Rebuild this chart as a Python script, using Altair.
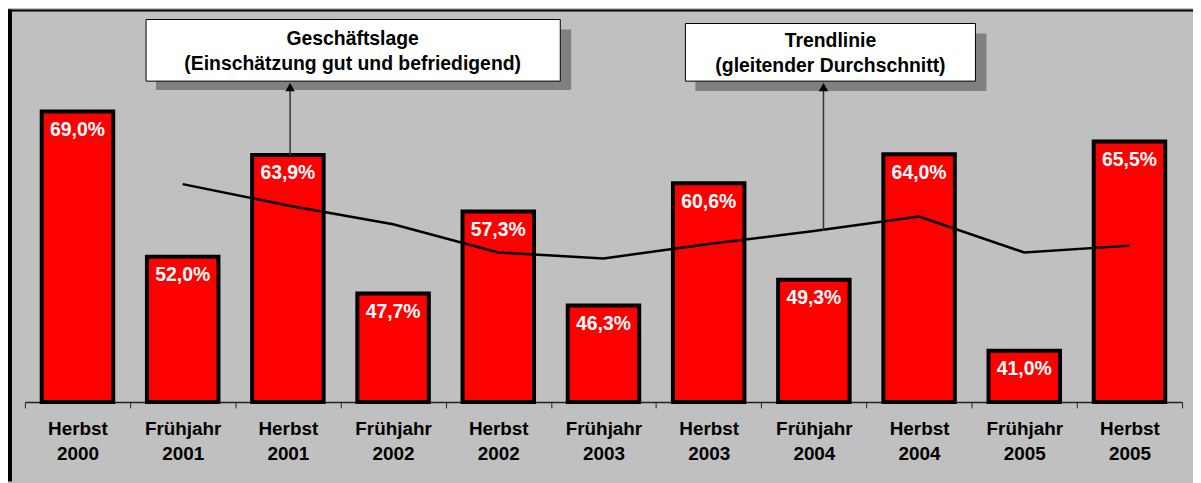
import altair as alt
import pandas as pd

categories = ["Herbst 2000", "Frühjahr 2001", "Herbst 2001", "Frühjahr 2002",
              "Herbst 2002", "Frühjahr 2003", "Herbst 2003", "Frühjahr 2004",
              "Herbst 2004", "Frühjahr 2005", "Herbst 2005"]
values = [69.0, 52.0, 63.9, 47.7, 57.3, 46.3, 60.6, 49.3, 64.0, 41.0, 65.5]
trend_categories = ["Frühjahr 2001", "Herbst 2001", "Frühjahr 2002", "Herbst 2002",
                    "Frühjahr 2003", "Herbst 2003", "Frühjahr 2004", "Herbst 2004",
                    "Frühjahr 2005", "Herbst 2005"]
trend_values = [60.5, 58.0, 55.8, 52.5, 51.8, 53.5, 55.0, 56.7, 52.5, 53.3]
box1_lines = ["Geschäftslage", "(Einschätzung gut und befriedigend)"]
box2_lines = ["Trendlinie", "(gleitender Durchschnitt)"]

W, H = 1165, 393
FONT = "Liberation Sans"

bars_df = pd.DataFrame({"cat": categories, "v": values})
trend_df = pd.DataFrame({"cat": trend_categories, "t": trend_values})
one = pd.DataFrame({"a": [0]})

xs = alt.Scale(domain=categories, paddingInner=0, paddingOuter=0)
x_axis = alt.Axis(title=None, labelExpr="split(datum.label, ' ')", tickBand="extent",
                  labelAngle=0)
x = alt.X("cat:N", sort=categories, scale=xs, axis=x_axis)
ys = alt.Scale(domain=[35, 80.7], nice=False, zero=False)
y_bar = alt.Y("v:Q", scale=ys, axis=None)

bars = alt.Chart(bars_df).mark_bar(color="#FF0000", stroke="black", strokeWidth=4,
                                   size=72).encode(
    x=x,
    y=y_bar,
    y2=alt.datum(35),
)

labels = alt.Chart(bars_df).transform_calculate(
    lbl="replace(format(datum.v, '.1f'), '.', ',') + '%'"
).mark_text(color="white", fontWeight="bold", fontSize=19.5, font=FONT,
            dy=18.5, baseline="middle").encode(
    x=x,
    y=y_bar,
    text="lbl:N",
)

trend = alt.Chart(trend_df).mark_line(color="black", strokeWidth=2.5).encode(
    x=x,
    y=alt.Y("t:Q", scale=ys, axis=None),
)


def rect(x1, x2, y1, y2, **kw):
    return alt.Chart(one).mark_rect(**kw).encode(
        x=alt.value(x1), x2=alt.value(x2), y=alt.value(y1), y2=alt.value(y2))


frame = (rect(-17, -13, -2, H + 80, color="black")
         + rect(-17, W + 11, -2, 0, color="black"))

box1 = (rect(132, 550, 18, 79, color="#808080")
        + rect(122, 539, 8, 70, fill="white", stroke="black", strokeWidth=1))
box2 = (rect(675, 968, 22, 80, color="#808080")
        + rect(665, 957, 12, 70, fill="white", stroke="black", strokeWidth=1))


def box_text(lines, cx, cy):
    return alt.Chart(one).mark_text(fontSize=19.5, fontWeight="bold", font=FONT,
                                    color="black", lineHeight=25,
                                    baseline="middle").encode(
        x=alt.value(cx), y=alt.value(cy), text=alt.value(lines))


t1 = box_text(box1_lines, 330, 28)
t2 = box_text(box2_lines, 811, 30)


def arrow(xp, y_top, y_bot):
    line = alt.Chart(one).mark_rule(color="#333333", strokeWidth=1.5).encode(
        x=alt.value(xp), y=alt.value(y_top + 6), y2=alt.value(y_bot))
    head = alt.Chart(one).mark_point(shape="triangle-up", filled=True, color="black",
                                     opacity=1, size=90).encode(
        x=alt.value(xp), y=alt.value(y_top + 5))
    return line + head


a1 = arrow(267, 71, 145)
a2 = arrow(804, 71, 221)

chart = alt.layer(frame, box1, box2, bars, trend, labels, a1, a2, t1, t2).properties(
    width=W, height=H,
    autosize=alt.AutoSizeParams(type="none"),
    padding={"left": 17, "top": 2, "right": 11, "bottom": 80},
    background="#C0C0C0",
).configure_view(stroke=None).configure_axis(
    domainColor="#222222", domainWidth=1.5, tickColor="#222222", tickWidth=1,
    tickSize=6, labelFont=FONT, labelFontWeight="bold", labelFontSize=19,
    labelColor="black", labelLineHeight=25, labelPadding=12,
)

chart.save("out.html", embed_options={"renderer": "svg", "actions": False})
